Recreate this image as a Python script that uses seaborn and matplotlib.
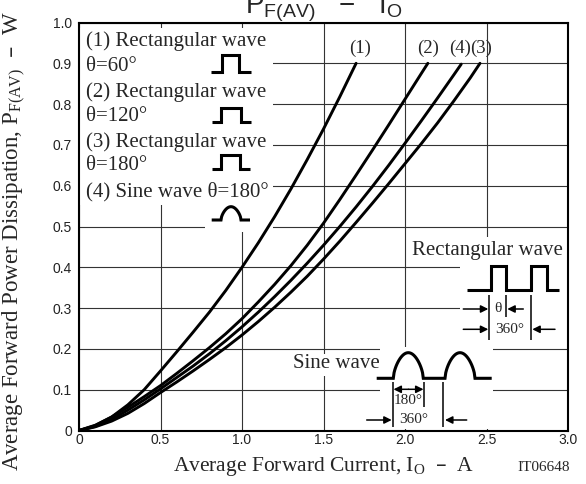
import matplotlib

matplotlib.use('Agg')
import matplotlib.pyplot as plt
from matplotlib.patches import Rectangle
import numpy as np
import pandas as pd
import seaborn as sns

# curve values (IO in A, PF(AV) in W)
curve_names = ['(1)', '(2)', '(4)', '(3)']

io_1 = [0, 0.1, 0.2, 0.3, 0.4, 0.5, 0.6, 0.7, 0.8, 0.9, 1.0, 1.1, 1.2, 1.3, 1.4, 1.5, 1.6, 1.7]
pf_1 = [0, 0.012, 0.033, 0.063, 0.1, 0.146, 0.193, 0.241, 0.29, 0.343, 0.40, 0.46, 0.524, 0.592, 0.664,
        0.739, 0.818, 0.90]

io_2 = [0, 0.1, 0.2, 0.3, 0.4, 0.5, 0.6, 0.7, 0.8, 0.9, 1.0, 1.1, 1.2, 1.3, 1.4, 1.5, 1.6, 1.7, 1.8, 1.9, 2.0,
        2.1, 2.14]
pf_2 = [0, 0.013, 0.033, 0.057, 0.083, 0.11, 0.14, 0.171, 0.203, 0.237, 0.274, 0.315, 0.358, 0.404, 0.454,
        0.508, 0.566, 0.626, 0.687, 0.749, 0.812, 0.875, 0.90]

io_4 = [0, 0.1, 0.2, 0.3, 0.4, 0.5, 0.6, 0.7, 0.8, 0.9, 1.0, 1.1, 1.2, 1.3, 1.4, 1.5, 1.6, 1.7, 1.8, 1.9, 2.0,
        2.1, 2.2, 2.3, 2.345]
pf_4 = [0, 0.01, 0.027, 0.05, 0.075, 0.102, 0.13, 0.158, 0.188, 0.22, 0.254, 0.29, 0.328, 0.368, 0.41,
        0.454, 0.5, 0.548, 0.598, 0.65, 0.704, 0.759, 0.815, 0.872, 0.898]

io_3 = [0, 0.1, 0.2, 0.3, 0.4, 0.5, 0.6, 0.7, 0.8, 0.9, 1.0, 1.1, 1.2, 1.3, 1.4, 1.5, 1.6, 1.7, 1.8, 1.9, 2.0,
        2.1, 2.2, 2.3, 2.4, 2.46]
pf_3 = [0, 0.009, 0.023, 0.042, 0.066, 0.093, 0.119, 0.146, 0.174, 0.203, 0.234, 0.267, 0.302, 0.339, 0.378,
        0.42, 0.464, 0.51, 0.557, 0.605, 0.654, 0.703, 0.754, 0.808, 0.864, 0.90]

x_ticks = [0, 0.5, 1.0, 1.5, 2.0, 2.5, 3.0]
x_tick_labels = ['0', '0.5', '1.0', '1.5', '2.0', '2.5', '3.0']
y_ticks = [0, 0.1, 0.2, 0.3, 0.4, 0.5, 0.6, 0.7, 0.8, 0.9, 1.0]
y_tick_labels = ['0', '0.1', '0.2', '0.3', '0.4', '0.5', '0.6', '0.7', '0.8', '0.9', '1.0']

legend_lines = ['(1) Rectangular wave', 'θ=60°', '(2) Rectangular wave', 'θ=120°',
                '(3) Rectangular wave', 'θ=180°', '(4) Sine wave θ=180°']

frames = []
for name, xs, ys in zip(curve_names, [io_1, io_2, io_4, io_3], [pf_1, pf_2, pf_4, pf_3]):
    frames.append(pd.DataFrame({'io': xs, 'pf': ys, 'curve': name}))
df = pd.concat(frames, ignore_index=True)

sns.set_theme(style='white')
plt.rcParams['font.family'] = ['Liberation Serif', 'DejaVu Serif']
SANS = ['Liberation Sans', 'DejaVu Sans']

W, H = 586, 484
L, R, T, B = 79, 568, 22.5, 430.5
fig = plt.figure(figsize=(W / 100, H / 100), dpi=100)
ax = fig.add_axes([L / W, (H - B) / H, (R - L) / W, (B - T) / H])


def px(x, y):
    # pixel position in the picture -> data coordinates
    return (x - L) / (R - L) * 3.0, (B - y) / (B - T)


sns.lineplot(data=df, x='io', y='pf', hue='curve', palette=['black'] * 4, estimator=None,
             sort=False, linewidth=2.1, legend=False, ax=ax, zorder=3)

ax.set_xlim(0, 3.0)
ax.set_ylim(0, 1.0)
ax.set_xticks(x_ticks)
ax.set_xticklabels(x_tick_labels, fontfamily=SANS, fontsize=10)
ax.set_yticks(y_ticks)
ax.set_yticklabels(y_tick_labels, fontfamily=SANS, fontsize=10)
ax.tick_params(length=0, colors='#222222')
ax.tick_params(axis='x', pad=2)
ax.tick_params(axis='y', pad=5)
ax.grid(True, color='#333333', lw=0.8)
ax.set_axisbelow(True)
for sp in ax.spines.values():
    sp.set_color('black')
    sp.set_linewidth(1.5)

ax.set_xlabel('Average Forward Current, $\\mathregular{I_O}$  –  A', fontsize=15.5)
ax.xaxis.set_label_coords(0.5, (B - 467) / (B - T), transform=ax.transAxes)
ax.set_ylabel('Average Forward Power Dissipation, $\\mathregular{P_{F(AV)}}$  –  W', fontsize=16.5)
ax.yaxis.set_label_coords((14 - L) / (R - L), (B - 241) / (B - T))
ax.xaxis.label.set_va('center')
ax.yaxis.label.set_va('center')

fig.text((L + R) / 2 / W, 1 - 13 / H, '$\\mathregular{P_{F(AV)}\\ \\ -\\ \\ I_O}$',
         ha='center', va='baseline', fontsize=20, fontfamily=SANS)
fig.text(570 / W, 1 - 467.5 / H, 'IT06648', ha='right', va='center', fontsize=11)

# white patches that hide the grid behind the annotations
for x0, y0, x1, y1 in [(79, 28, 273, 205), (205, 205, 273, 232), (412, 237, 568, 258),
                       (460, 258, 568, 348), (380, 347, 493, 429), (293, 354, 380, 376)]:
    a, b = px(x0, y1)
    c, d = px(x1, y0)
    ax.add_patch(Rectangle((a, b), c - a, d - b, facecolor='white', edgecolor='none', zorder=1))

# curve tags above the line ends
tag_shift = {'(1)': 0.022, '(2)': 0.0, '(4)': -0.01, '(3)': 0.006}
for name, xs in zip(curve_names, [io_1, io_2, io_4, io_3]):
    ax.text(xs[-1] + tag_shift[name], px(0, 48)[1], name, ha='center', va='center',
            fontsize=13.5, zorder=4)

# legend text
for txt, yy in zip(legend_lines, [40.7, 66.7, 91.7, 116.7, 141.7, 165, 191.7]):
    ax.text(*px(86, yy), txt, ha='left', va='center', fontsize=15, zorder=4)


def draw(points, lw=2.2):
    xs, ys = zip(*[px(x, y) for x, y in points])
    ax.plot(xs, ys, color='black', lw=lw, solid_joinstyle='miter', solid_capstyle='butt',
            zorder=4, clip_on=False)


def pulse(x0, xr, xf, x1, top, bot):
    draw([(x0, bot), (xr, bot), (xr, top), (xf, top), (xf, bot), (x1, bot)])


def arch(x0, x1, top, bot):
    t = np.linspace(0, 1, 40)
    return [(x0 + (x1 - x0) * s, bot - (bot - top) * np.sin(np.pi * s) ** 0.6) for s in t]


def arrow(x0, y0, x1, y1, style='-|>'):
    ax.annotate('', xy=px(x1, y1), xytext=px(x0, y0),
                arrowprops=dict(arrowstyle=style, color='black', lw=1.1, mutation_scale=11,
                                shrinkA=0, shrinkB=0), zorder=4)


def vline(x, y0, y1):
    draw([(x, y0), (x, y1)], lw=1.1)


# legend icons
pulse(211, 221.7, 239, 250.7, 55, 72.3)
pulse(211.7, 221, 240.7, 250.7, 108.3, 121.7)
pulse(211.7, 221, 240, 250, 155, 169)
draw([(211.7, 220)] + arch(221, 241, 206.7, 220) + [(250, 220)])

# rectangular wave sketch
ax.text(*px(487.5, 250.7), 'Rectangular wave', ha='center', va='center', fontsize=15, zorder=4)
draw([(466.7, 290), (490.7, 290), (490.7, 266), (506, 266), (506, 290), (531, 290), (531, 266),
      (546.7, 266), (546.7, 290), (559.3, 290)])
vline(489.3, 295, 340)
vline(506, 295, 316.7)
vline(531, 295, 340)
arrow(463.3, 309, 488.3, 309)
arrow(523.3, 309, 507.3, 309)
ax.text(*px(497.7, 309), 'θ', ha='center', va='center', fontsize=11, zorder=4)
arrow(463.3, 329.3, 488.3, 329.3)
arrow(555, 329.3, 532.3, 329.3)
ax.text(*px(510, 329.3), '360°', ha='center', va='center', fontsize=11, zorder=4)

# sine wave sketch
ax.text(*px(336.7, 364), 'Sine wave', ha='center', va='center', fontsize=15, zorder=4)
draw([(376.7, 378.3)] + arch(393.3, 423.3, 352.7, 378.3) + arch(445, 475, 352.7, 378.3)
     + [(491.7, 378.3)])
vline(392.7, 381.7, 426.7)
vline(424, 381.7, 406.7)
vline(443.3, 381.7, 426.7)
arrow(408.5, 389.3, 393.5, 389.3)
arrow(408.5, 389.3, 423.5, 389.3)
ax.text(*px(408.3, 401), '180°', ha='center', va='center', fontsize=11, zorder=4)
arrow(366.7, 420, 391.7, 420)
arrow(466.7, 420, 445, 420)
ax.text(*px(413.3, 419.3), '360°', ha='center', va='center', fontsize=11, zorder=4)

fig.savefig('out.png', dpi=100, facecolor='white')
